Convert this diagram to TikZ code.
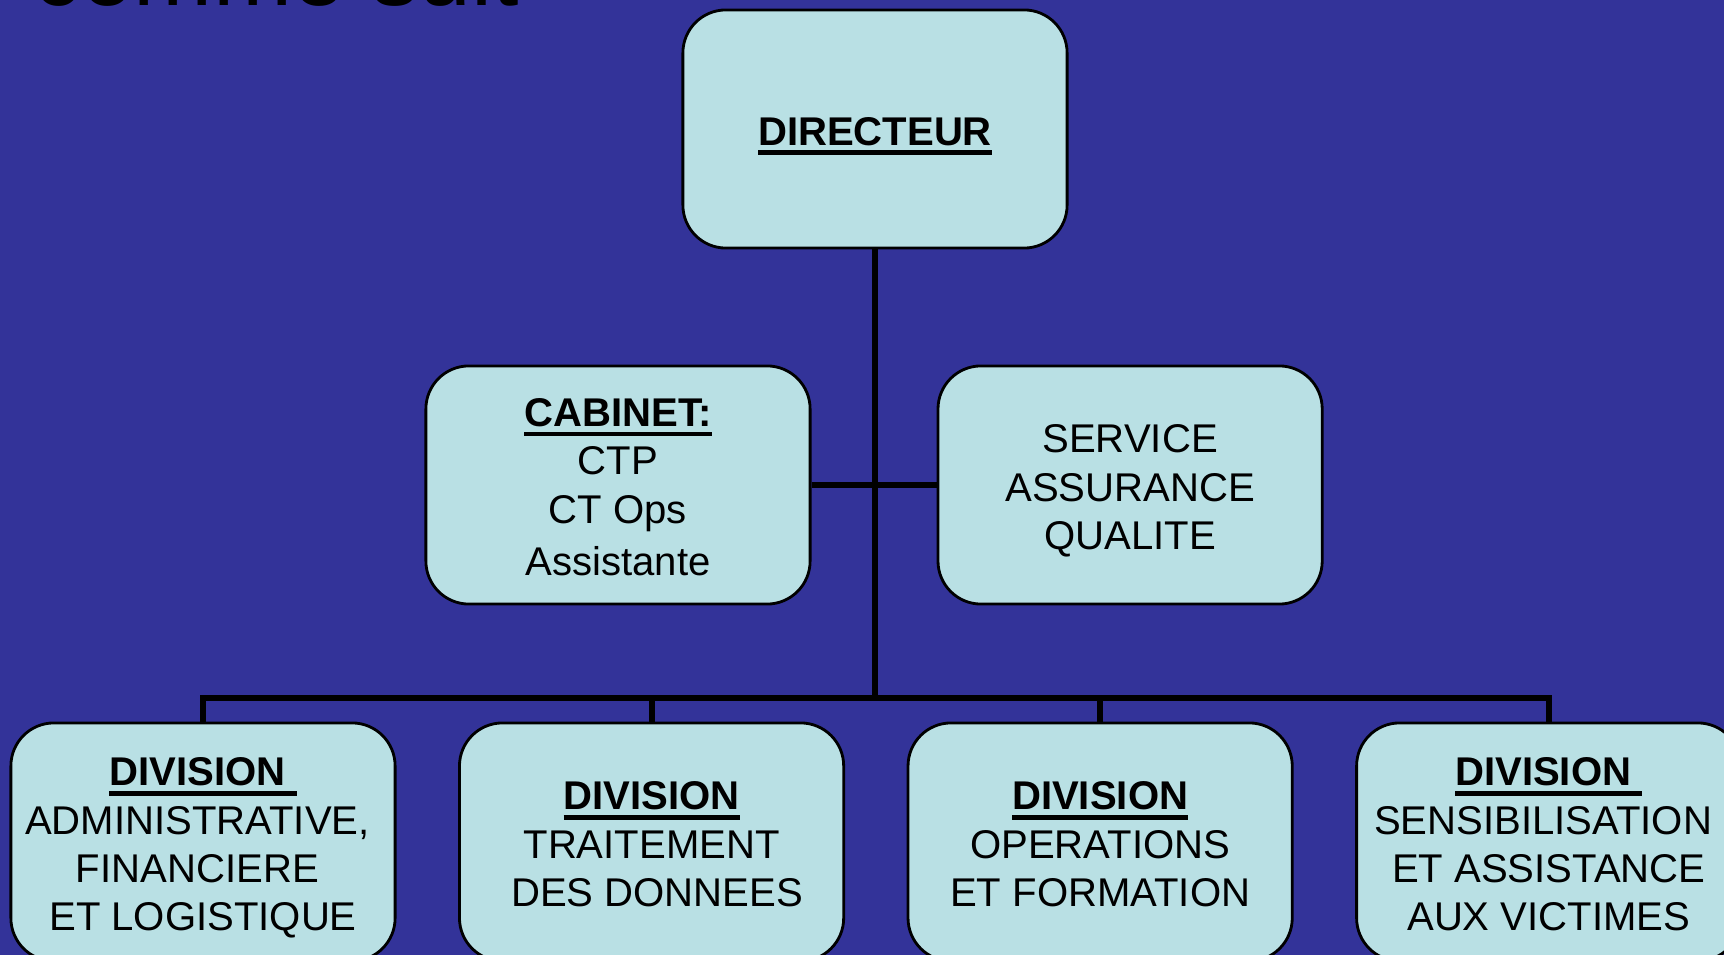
\documentclass[tikz,border=0pt]{standalone}
\usepackage{fontspec}
\setmainfont{Liberation Sans}
\usepackage{xcolor}
\usetikzlibrary{positioning}
\definecolor{fondbleu}{RGB}{51,51,153}
\definecolor{cyanpale}{RGB}{185,224,228}
\newsavebox{\boitemot}
\newcommand{\souligne}[1]{\sbox{\boitemot}{\bfseries #1}\leavevmode\rlap{\smash{\vrule height -1.5pt depth 2.8pt width \wd\boitemot}}\usebox{\boitemot}}
\newcommand{\tige}{\rule[-2.42pt]{0pt}{14pt}}
\newcommand{\esp}{\mbox{\hspace{0.28em}}}

\begin{document}
\begin{tikzpicture}[x=0.01cm,y=-0.01cm,node distance=0.615cm,
	boite/.style={draw=black,line width=0.8pt,fill=cyanpale,rounded corners=0.43cm,
		minimum width=3.84cm,minimum height=2.38cm,inner sep=0pt,align=center,
		font=\fontsize{11.4}{13.7}\selectfont},
	lien/.style={line width=1.7pt}]
		\clip (0,0) rectangle (1724,955);
		\fill[fondbleu] (0,0) rectangle (1724,955);
		\node[anchor=base west,inner sep=0pt,font=\fontsize{27}{32}\selectfont] (titre) at (33,6) {comme suit};
	
		\node[boite] (dir) at (875,129) {\tige\souligne{DIRECTEUR}\tige};
		\node[boite] (cab) at (618,485) {\tige\souligne{CABINET:}\\CTP\\CT Ops\\Assistante\tige};
		\node[boite] (serv) [right=1.25cm of cab] {\tige SERVICE\\ASSURANCE\\QUALITE\tige};
	
		\node[boite] (da) at (203,842) {\tige\souligne{DIVISION\ }\\ADMINISTRATIVE,\esp\\FINANCIERE\esp\\ET LOGISTIQUE\tige};
		\node[boite] (dt) [right=of da] {\tige\souligne{DIVISION}\\TRAITEMENT\\\esp DES DONNEES\tige};
		\node[boite] (dop) [right=of dt] {\tige\souligne{DIVISION}\\OPERATIONS\\ET FORMATION\tige};
		\node[boite] (dsa) [right=of dop] {\tige\souligne{DIVISION\ }\\SENSIBILISATION\esp\\ET ASSISTANCE\\AUX VICTIMES\tige};
	
		\coordinate (bus) at (875,698);
		\draw[lien] (dir.south) -- (bus);
		\draw[lien] (cab.east) -- (serv.west);
		\foreach \d in {da,dt,dop,dsa}
			\draw[lien] (bus) -| (\d.north);
	\end{tikzpicture}
\end{document}
